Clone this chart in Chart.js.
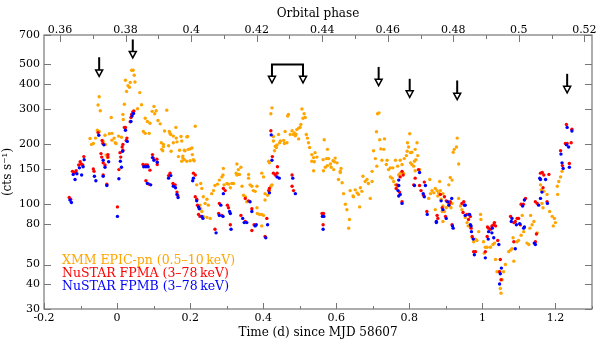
<!DOCTYPE html>
<html>
<head>
<meta charset="utf-8">
<script src="https://cdn.jsdelivr.net/npm/chart.js@4.4.1/dist/chart.umd.min.js"></script>
<style>
  body { margin: 0; background: #fff; }
  #lc { display: block; }
</style>
</head>
<body>
<canvas id="lc" width="598" height="340"></canvas>
<script>
// light curve values: [time (d), rate (cts/s)]
const xmmPn = [
  [-0.074,213],[-0.070,199],[-0.065,201],[-0.059,214],[-0.054,234],[-0.052,313],[-0.049,344],[-0.049,231],[-0.046,293],[-0.038,206],
  [-0.033,221],[-0.032,199],[-0.030,176],[-0.026,171],[-0.021,225],[-0.016,271],[-0.014,226],[-0.014,209],[-0.008,214],[-0.005,203],
  [-0.003,201],[0.004,219],[0.012,216],[0.016,281],[0.017,265],[0.020,316],[0.023,416],[0.026,366],[0.030,391],[0.034,384],
  [0.036,406],[0.040,467],[0.044,467],[0.047,441],[0.049,408],[0.056,300],[0.062,361],[0.067,314],[0.072,231],[0.077,269],
  [0.077,226],[0.083,259],[0.088,226],[0.090,254],[0.096,291],[0.101,308],[0.103,283],[0.107,293],[0.112,262],[0.118,252],
  [0.121,203],[0.122,188],[0.125,185],[0.127,199],[0.127,194],[0.130,232],[0.136,295],[0.141,196],[0.143,231],[0.145,225],
  [0.147,223],[0.148,184],[0.154,219],[0.154,203],[0.161,242],[0.162,214],[0.164,205],[0.168,173],[0.171,186],[0.175,218],
  [0.177,207],[0.177,164],[0.180,170],[0.180,174],[0.184,186],[0.184,167],[0.186,185],[0.191,217],[0.191,164],[0.193,218],
  [0.195,188],[0.200,189],[0.200,165],[0.205,191],[0.206,177],[0.209,167],[0.211,165],[0.214,245],
  [0.218,125],[0.227,99],[0.229,127],[0.229,95],[0.232,120],[0.232,92],[0.236,109],[0.236,87],[0.241,101],[0.246,106],
  [0.246,86],[0.250,99],[0.255,85],[0.259,113],[0.264,117],[0.268,124],[0.275,126],[0.280,132],[0.287,137],[0.290,140],
  [0.291,151],[0.293,125],[0.301,127],[0.305,126],[0.310,121],[0.314,127],[0.319,127],[0.326,143],[0.328,159],[0.328,140],
  [0.332,149],[0.332,141],[0.335,141],[0.339,153],[0.342,123],[0.346,111],[0.351,109],[0.355,103],[0.360,135],[0.360,141],
  [0.364,125],[0.369,123],[0.373,117],[0.378,116],[0.383,123],[0.383,96],[0.384,90],[0.390,89],[0.396,143],[0.396,89],
  [0.396,78],[0.401,137],[0.401,88],[0.405,105],[0.405,113],[0.412,111],[0.415,164],[0.417,117],[0.417,161],[0.421,123],
  [0.421,283],[0.424,125],[0.424,303],
  [0.428,218],[0.428,207],[0.431,185],[0.433,195],[0.436,192],[0.438,198],[0.442,223],[0.445,203],[0.447,207],[0.456,208],
  [0.458,201],[0.460,231],[0.465,203],[0.467,276],[0.469,281],[0.474,223],[0.479,233],[0.483,223],[0.485,227],[0.488,220],
  [0.490,224],[0.492,236],[0.497,240],[0.497,212],[0.501,242],[0.503,250],[0.506,299],[0.509,269],[0.512,283],[0.515,271],
  [0.518,223],[0.521,214],[0.524,203],[0.527,192],[0.533,177],[0.533,164],[0.538,171],[0.538,147],[0.540,163],[0.542,181],
  [0.547,172],
  [0.564,167],[0.565,147],[0.567,210],[0.570,153],[0.573,169],[0.576,188],[0.576,156],[0.579,169],[0.584,159],[0.586,153],
  [0.591,165],[0.593,149],[0.595,163],[0.597,170],[0.602,161],[0.606,133],[0.611,146],[0.611,144],[0.613,151],[0.616,128],
  [0.620,113],[0.625,100],[0.629,94],[0.634,76],[0.636,84],[0.638,117],[0.646,110],[0.647,109],[0.652,118],[0.657,114],
  [0.661,112],[0.664,97],[0.666,121],[0.670,116],[0.673,138],[0.679,130],[0.684,133],[0.688,127],[0.693,107],[0.698,146],
  [0.698,130],
  [0.702,185],[0.707,169],[0.710,230],[0.711,155],[0.713,283],[0.717,286],[0.719,210],[0.722,189],[0.725,166],[0.730,188],
  [0.732,212],[0.737,158],[0.739,166],[0.743,149],[0.748,152],[0.748,137],[0.753,135],[0.755,152],[0.757,130],[0.762,166],
  [0.762,125],[0.768,155],[0.768,123],[0.771,140],[0.775,166],[0.775,143],[0.780,158],[0.784,143],[0.786,169],[0.792,175],
  [0.794,184],[0.795,203],[0.798,193],[0.801,225],[0.803,181],[0.803,161],[0.807,182],[0.807,158],[0.812,155],[0.814,164],
  [0.816,188],[0.816,147],[0.818,167],[0.821,203],[0.823,175],[0.828,149],
  [0.853,107],[0.856,133],[0.858,113],[0.862,117],[0.867,114],[0.871,120],[0.871,94],[0.876,117],[0.878,110],[0.880,114],
  [0.883,130],[0.885,117],[0.887,106],[0.890,92],[0.892,98],[0.892,113],[0.892,82],[0.896,92],[0.901,96],[0.903,103],
  [0.908,125],[0.910,98],[0.912,136],[0.914,96],[0.917,101],[0.917,132],[0.920,182],[0.923,188],[0.929,193],[0.931,214],
  [0.935,159],[0.935,107],[0.940,98],[0.944,94],[0.953,86],[0.958,81],[0.961,78],[0.967,77],[0.972,68],[0.976,65],
  [0.981,67],[0.985,66],
  [0.990,73],[0.995,89],[0.996,84],[1.003,65],[1.005,57],[1.008,61],[1.013,61],[1.022,61],[1.029,63],[1.033,64],
  [1.036,53],[1.040,46],[1.047,46],[1.049,38],[1.051,36],[1.054,42],[1.058,46],[1.063,50],[1.072,58],[1.077,59],
  [1.081,60],[1.084,68],[1.086,52],[1.095,65],[1.099,66],[1.106,70],[1.109,88],[1.113,73],[1.122,64],[1.127,63],
  [1.130,76],[1.132,88],[1.136,79],[1.141,82],[1.150,72],[1.159,125],[1.161,118],[1.163,101],[1.166,96],[1.168,116],
  [1.177,112],[1.184,92],[1.191,87],[1.194,78],[1.197,85],[1.200,81],[1.205,123],[1.206,112],[1.209,130],[1.214,137],
  [1.218,146]
];

const fpma = [
  [-0.131,108],[-0.127,106],
  [-0.122,146],[-0.116,144],[-0.112,147],[-0.105,157],[-0.101,163],[-0.098,159],[-0.094,157],[-0.091,173],
  [-0.065,150],[-0.063,146],[-0.052,228],[-0.044,179],[-0.042,172],[-0.041,208],[-0.039,201],[-0.038,161],[-0.038,140],
  [-0.033,157],[-0.028,126],[-0.025,177],[-0.025,172],
  [0.001,97],
  [0.005,149],[0.008,181],[0.010,172],[0.014,193],[0.016,199],[0.016,186],[0.020,242],[0.023,242],[0.025,208],[0.027,214],
  [0.036,258],[0.038,271],[0.040,281],[0.043,289],[0.046,292],
  [0.071,158],[0.078,157],[0.079,131],[0.083,157],[0.088,126],[0.090,148],[0.097,177],[0.099,170],[0.109,168],[0.110,158],
  [0.141,139],[0.145,143],[0.153,127],[0.159,125],[0.164,115],[0.166,111],
  [0.209,143],[0.214,140],[0.214,109],[0.218,106],[0.220,99],[0.223,89],[0.227,87],
  [0.268,75],[0.278,90],[0.280,101],[0.287,88],[0.291,120],[0.296,117],[0.302,99],[0.305,96],[0.310,79],
  [0.339,88],[0.351,107],[0.351,82],[0.360,104],[0.369,95],[0.369,74],[0.375,79],
  [0.405,69],[0.410,85],[0.415,117],[0.417,120],[0.421,233],[0.425,173],[0.428,143],[0.433,140],[0.438,143],[0.439,154],
  [0.479,140],[0.479,123],[0.483,117],
  [0.561,90],[0.565,90],[0.564,79],
  [0.764,120],[0.766,125],[0.773,115],[0.775,137],[0.780,146],[0.780,103],[0.783,140],
  [0.812,125],[0.816,135],[0.825,149],[0.828,124],[0.832,117],[0.839,111],[0.841,129],[0.848,92],
  [0.876,88],[0.878,85],[0.885,112],[0.890,96],[0.896,109],[0.899,87],[0.901,104],[0.910,101],[0.912,103],[0.917,79],
  [0.944,101],[0.947,91],[0.949,103],[0.958,89],[0.962,89],[0.962,84],[0.967,87],[0.969,76],[0.972,69],[0.976,58],[0.981,58],
  [1.008,58],[1.013,69],[1.014,77],[1.017,76],[1.022,75],[1.026,78],[1.031,79],[1.033,81],[1.036,78],[1.042,66],
  [1.047,46],[1.049,53],[1.051,42],
  [1.077,87],[1.086,81],[1.086,65],[1.090,82],[1.095,85],[1.099,85],[1.104,79],[1.106,100],[1.112,100],[1.118,107],
  [1.145,103],[1.145,65],[1.148,71],[1.150,101],[1.159,143],[1.164,144],[1.166,121],[1.168,140],[1.177,103],[1.182,141],
  [1.214,185],[1.219,156],[1.227,201],[1.230,250],[1.232,201],[1.238,160],[1.243,203],[1.245,237]
];

const fpmb = [
  [-0.129,105],[-0.125,102],
  [-0.120,141],[-0.115,133],[-0.110,142],[-0.103,152],[-0.097,140],[-0.093,154],[-0.090,167],
  [-0.062,138],[-0.058,131],[-0.050,221],[-0.038,166],[-0.038,138],[-0.036,198],[-0.033,153],[-0.028,124],[-0.023,163],
  [0.001,87],
  [0.005,134],[0.009,164],[0.012,153],[0.015,184],[0.023,234],[0.028,206],[0.038,259],[0.041,276],[0.045,284],
  [0.073,154],[0.079,154],[0.083,127],[0.085,154],[0.092,125],[0.097,171],[0.101,166],[0.110,162],
  [0.141,135],[0.147,139],[0.154,123],[0.160,121],[0.164,112],[0.167,108],
  [0.207,131],[0.209,135],[0.218,104],[0.223,97],[0.225,95],[0.232,87],[0.235,85],
  [0.271,72],[0.280,88],[0.284,99],[0.290,87],[0.291,113],[0.308,92],[0.310,90],[0.312,75],
  [0.344,85],[0.348,81],[0.355,81],[0.364,103],[0.369,92],[0.378,78],[0.381,79],
  [0.407,68],[0.412,79],[0.417,114],[0.422,222],[0.424,166],[0.438,137],[0.444,135],
  [0.481,135],[0.488,113],
  [0.562,87],[0.564,75],[0.566,87],
  [0.769,117],[0.771,132],[0.771,124],[0.771,110],[0.775,112],[0.780,101],
  [0.814,124],[0.828,144],[0.838,113],[0.841,109],[0.844,124],[0.849,89],
  [0.874,82],[0.874,81],[0.887,104],[0.892,94],[0.901,85],[0.905,103],[0.908,99],[0.916,107],[0.918,78],[0.920,76],
  [0.951,99],[0.953,99],[0.953,88],[0.965,89],[0.967,79],[0.969,78],[0.970,73],[0.975,67],[0.978,56],
  [1.008,54],[1.016,67],[1.017,73],[1.026,72],[1.027,76],[1.031,68],[1.045,63],[1.047,40],[1.049,45],[1.052,48],
  [1.079,82],[1.081,85],[1.090,60],[1.093,79],[1.102,80],[1.110,98],[1.113,76],[1.115,77],[1.115,105],
  [1.142,64],[1.145,63],[1.154,99],[1.157,135],[1.159,133],[1.159,107],[1.163,115],[1.173,133],[1.178,101],
  [1.215,178],[1.218,161],[1.221,151],[1.230,198],[1.232,242],[1.236,193],[1.238,153],[1.245,232]
];

// axes
const timeTicks = [-0.2, 0, 0.2, 0.4, 0.6, 0.8, 1, 1.2];
const timeMinor = [-0.1, 0.1, 0.3, 0.5, 0.7, 0.9, 1.1, 1.3];
const phaseTicks = [0.36, 0.38, 0.4, 0.42, 0.44, 0.46, 0.48, 0.5, 0.52];
const phaseMinor = [0.37, 0.39, 0.41, 0.43, 0.45, 0.47, 0.49, 0.51];
const rateTicks = [30, 40, 50, 80, 100, 150, 200, 300, 400, 500, 700];
const orbitalPeriod = 8.97;   // d
const phaseAtT0 = 0.3774;

// arrows marking dips: time, start rate, tip rate
const arrowTime = [-0.049, 0.043, 0.716, 0.801, 0.931, 1.232];
const arrowTop  = [542, 665, 485, 423, 415, 448];
const arrowTip  = [435, 538, 391, 342, 333, 360];
const bracketTime = [0.424, 0.509];
const bracketTop = 499;
const bracketTip = 404;

const legendText = ['XMM EPIC-pn (0.5–10\u2009keV)', 'NuSTAR FPMA (3–78\u2009keV)', 'NuSTAR FPMB (3–78\u2009keV)'];
const legendColor = ['#ffa500', '#ff0000', '#0000ff'];

Chart.defaults.font.family = '"DejaVu Serif", serif';
Chart.defaults.color = '#000';

const toXY = arr => arr.map(p => ({x: p[0], y: p[1]}));

const decor = {
  id: 'decor',
  afterDraw(chart) {
    const ctx = chart.ctx, a = chart.chartArea, s = chart.scales;
    const line = (x1, y1, x2, y2) => { ctx.beginPath(); ctx.moveTo(x1, y1); ctx.lineTo(x2, y2); ctx.stroke(); };
    ctx.save();
    ctx.strokeStyle = '#777';
    ctx.lineWidth = 1.2;
    ctx.strokeRect(a.left, a.top, a.right - a.left, a.bottom - a.top);

    ctx.lineWidth = 1;
    timeTicks.forEach(v => { const x = Math.round(s.x.getPixelForValue(v)) + 0.5; line(x, a.bottom, x, a.bottom - 6); });
    timeMinor.forEach(v => { const x = Math.round(s.x.getPixelForValue(v)) + 0.5; line(x, a.bottom, x, a.bottom - 3); });
    phaseTicks.forEach(v => { const x = Math.round(s.x2.getPixelForValue(v)) + 0.5; line(x, a.top, x, a.top + 7); });
    phaseMinor.forEach(v => { const x = Math.round(s.x2.getPixelForValue(v)) + 0.5; line(x, a.top, x, a.top + 4); });
    rateTicks.forEach(v => {
      const y = Math.round(s.y.getPixelForValue(v)) + 0.5;
      line(a.left, y, a.left + 7, y);
      line(a.right, y, a.right - 7, y);
    });

    // dip arrows
    ctx.strokeStyle = '#000';
    const arrow = (t, top, tip) => {
      const x = s.x.getPixelForValue(t), y0 = s.y.getPixelForValue(top), y1 = s.y.getPixelForValue(tip);
      ctx.lineWidth = 2;
      line(x, y0, x, y1 - 6);
      ctx.beginPath();
      ctx.moveTo(x - 3.5, y1 - 6.5);
      ctx.lineTo(x + 3.5, y1 - 6.5);
      ctx.lineTo(x, y1);
      ctx.closePath();
      ctx.fillStyle = '#fff';
      ctx.fill();
      ctx.lineWidth = 1.5;
      ctx.stroke();
    };
    arrowTime.forEach((t, i) => arrow(t, arrowTop[i], arrowTip[i]));
    ctx.lineWidth = 2;
    const yb = s.y.getPixelForValue(bracketTop);
    line(s.x.getPixelForValue(bracketTime[0]) - 1, yb, s.x.getPixelForValue(bracketTime[1]) + 1, yb);
    bracketTime.forEach(t => arrow(t, bracketTop, bracketTip));

    // legend
    ctx.font = '12.5px "DejaVu Serif"';
    ctx.textAlign = 'left';
    ctx.textBaseline = 'alphabetic';
    legendText.forEach((txt, i) => {
      ctx.fillStyle = legendColor[i];
      ctx.fillText(txt, a.left + 18, a.bottom - 45 + i * 13);
    });
    ctx.restore();
  }
};

const tickFont = {size: 11};
const titleFont = {size: 12};

new Chart(document.getElementById('lc'), {
  type: 'scatter',
  data: {
    datasets: [
      {label: 'XMM', data: toXY(xmmPn), backgroundColor: '#ffa500', pointRadius: 1.7, borderWidth: 0, order: 3},
      {label: 'FPMA', data: toXY(fpma), backgroundColor: '#ff0000', pointRadius: 1.7, borderWidth: 0, order: 2},
      {label: 'FPMB', data: toXY(fpmb), backgroundColor: '#0000ff', pointRadius: 1.7, borderWidth: 0, order: 1}
    ]
  },
  options: {
    responsive: false,
    animation: false,
    events: [],
    layout: {padding: {left: 0, right: 6, top: 0, bottom: 0}},
    plugins: {legend: {display: false}, tooltip: {enabled: false}},
    scales: {
      x: {
        type: 'linear', position: 'bottom', min: -0.2, max: 1.3,
        afterBuildTicks: sc => { sc.ticks = timeTicks.map(v => ({value: v})); },
        afterFit: sc => { sc.height = 31; },
        grid: {display: false, drawTicks: false},
        border: {display: false},
        ticks: {font: tickFont, padding: 3, maxRotation: 0, autoSkip: false, callback: v => String(v)},
        title: {display: true, text: 'Time (d) since MJD 58607', font: titleFont, padding: {top: 0, bottom: 0}}
      },
      x2: {
        type: 'linear', position: 'top',
        min: phaseAtT0 - 0.2 / orbitalPeriod, max: phaseAtT0 + 1.3 / orbitalPeriod,
        afterBuildTicks: sc => { sc.ticks = phaseTicks.map(v => ({value: v})); },
        afterFit: sc => { sc.height = 35; },
        grid: {display: false, drawTicks: false},
        border: {display: false},
        ticks: {font: tickFont, padding: -2, maxRotation: 0, autoSkip: false, callback: v => String(v)},
        title: {display: true, text: 'Orbital phase', font: titleFont, padding: {top: 7, bottom: 0}}
      },
      y: {
        type: 'logarithmic', position: 'left', min: 30, max: 700,
        afterBuildTicks: sc => { sc.ticks = rateTicks.map(v => ({value: v})); },
        afterFit: sc => { sc.width = 44; },
        grid: {display: false, drawTicks: false},
        border: {display: false},
        ticks: {font: tickFont, padding: 4, autoSkip: false, callback: v => String(v)},
        title: {display: true, text: '(cts s⁻¹)', font: titleFont, padding: {top: 1, bottom: 0}}
      }
    }
  },
  plugins: [decor]
});
</script>
</body>
</html>
